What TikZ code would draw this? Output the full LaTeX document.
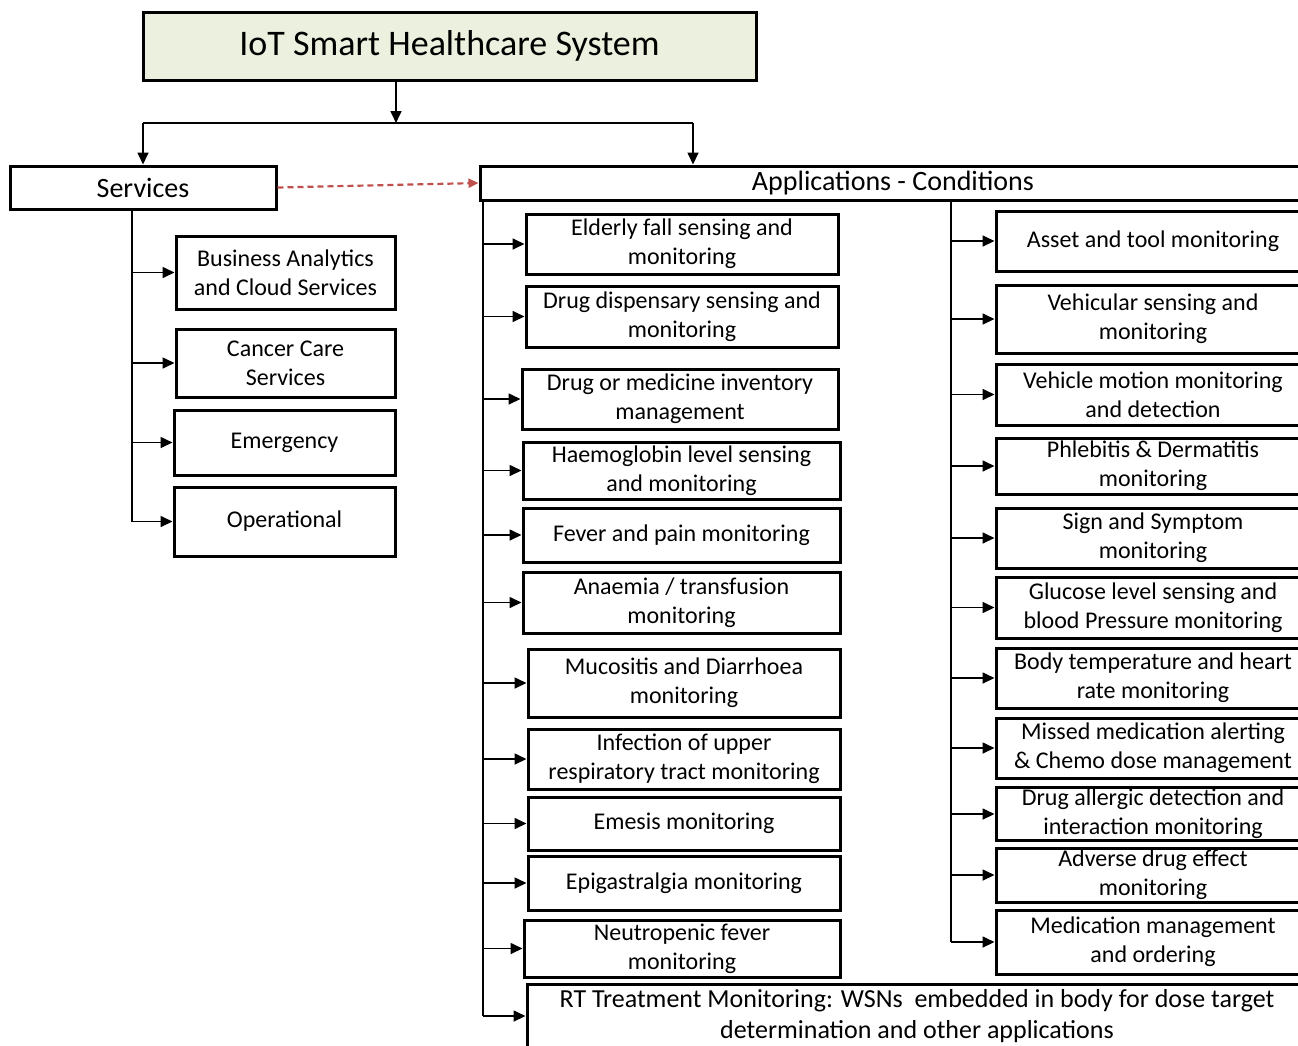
\documentclass[tikz,border=0pt]{standalone}
\usepackage{fontspec}
\setmainfont{Carlito}
\usetikzlibrary{arrows.meta}
\definecolor{titlegreen}{RGB}{235,241,222}
\definecolor{linkred}{RGB}{192,80,77}
\tikzset{
    every picture/.append style={x=1pt, y=-1pt},
    box/.style={rectangle, draw, line width=3pt, align=center, inner sep=2pt,
        font=\fontsize{24}{29}\selectfont},
    headbox/.style={box, font=\fontsize{28}{32}\selectfont},
    conn/.style={line width=1.7pt},
    arr/.style={line width=1.7pt, -{Triangle[length=12pt, width=11pt]}},
    linkarr/.style={line width=2.2pt, draw=linkred, dash pattern=on 6pt off 4pt,
        -{Triangle[length=10pt, width=9pt, fill=linkred]}}
}

\begin{document}
\begin{tikzpicture}
  \useasboundingbox (0,0) rectangle (1298,1045);
  \clip (0,0) rectangle (1298,1045);

  \node (top) [box, fill=titlegreen, minimum width=613pt, minimum height=68pt,
      font=\fontsize{36}{40}\selectfont] at (449.5,46) {IoT Smart Healthcare System};
  \node (srv) [headbox, minimum width=266pt, minimum height=43pt] at (143,187.5) {Services};
  \node (app) [headbox, minimum width=826pt, minimum height=34pt, inner sep=0pt] at (893,183) {Applications - Conditions};

  % services
  \node (ba) [box, minimum width=219pt, minimum height=73pt] at (285.5,272.5) {Business Analytics\\and Cloud Services};
  \node (cc) [box, minimum width=219pt, minimum height=68pt] at (285.5,363) {Cancer Care\\Services};
  \node (eme) [box, minimum width=221pt, minimum height=65pt] at (284.5,442.5) {Emergency};
  \node (op) [box, minimum width=221pt, minimum height=69pt] at (284.5,521.5) {Operational};

  % applications, left column
  \node (el) [box, minimum width=312pt, minimum height=60pt] at (682,244) {Elderly fall sensing and\\monitoring};
  \node (dd) [box, minimum width=312pt, minimum height=61pt] at (682,316.5) {Drug dispensary sensing and\\monitoring};
  \node (dm) [box, minimum width=316pt, minimum height=60pt] at (680,399) {Drug or medicine inventory\\management};
  \node (hb) [box, minimum width=317pt, minimum height=57pt] at (681.5,470.5) {Haemoglobin level sensing\\and monitoring};
  \node (fe) [box, minimum width=317pt, minimum height=54pt] at (681.5,535) {Fever and pain monitoring};
  \node (an) [box, minimum width=317pt, minimum height=61pt] at (681.5,602.5) {Anaemia / transfusion\\monitoring};
  \node (mu) [box, minimum width=312pt, minimum height=68pt] at (684,683) {Mucositis and Diarrhoea\\monitoring};
  \node (inf) [box, minimum width=312pt, minimum height=60pt] at (684,759) {Infection of upper\\respiratory tract monitoring};
  \node (em) [box, minimum width=312pt, minimum height=53pt] at (684,823.5) {Emesis monitoring};
  \node (ep) [box, minimum width=312pt, minimum height=54pt] at (684,883) {Epigastralgia monitoring};
  \node (ne) [box, minimum width=316pt, minimum height=57pt] at (682,948.5) {Neutropenic fever\\monitoring};
  \node (rt) [box, minimum width=780pt, minimum height=64pt, font=\fontsize{26}{31}\selectfont]
      at (917,1016) {RT Treatment Monitoring: WSNs~ embedded in body for dose target\\determination and other applications};

  % applications, right column
  \node (as) [box, minimum width=314pt, minimum height=60pt] at (1153,241) {Asset and tool monitoring};
  \node (vs) [box, minimum width=314pt, minimum height=68pt] at (1153,319) {Vehicular sensing and\\monitoring};
  \node (vm) [box, minimum width=314pt, minimum height=61pt] at (1153,394.5) {Vehicle motion monitoring\\and detection};
  \node (ph) [box, minimum width=314pt, minimum height=56pt] at (1153,466) {Phlebitis \& Dermatitis\\monitoring};
  \node (si) [box, minimum width=314pt, minimum height=60pt] at (1153,538) {Sign and Symptom\\monitoring};
  \node (gl) [box, minimum width=314pt, minimum height=61pt] at (1153,607.5) {Glucose level sensing and\\blood Pressure monitoring};
  \node (bt) [box, minimum width=314pt, minimum height=60pt] at (1153,678) {Body temperature and heart\\rate monitoring};
  \node (mm) [box, minimum width=314pt, minimum height=60pt] at (1153,748) {Missed medication alerting\\\& Chemo dose management};
  \node (da) [box, minimum width=314pt, minimum height=52pt] at (1153,814) {Drug allergic detection and\\interaction monitoring};
  \node (ad) [box, minimum width=314pt, minimum height=54pt] at (1153,875) {Adverse drug effect\\monitoring};
  \node (mo) [box, minimum width=314pt, minimum height=64pt] at (1153,942) {Medication management\\and ordering};

  \coordinate (split) at (396,123);
  \coordinate (strunk) at (132,0);
  \coordinate (ltrunk) at (483,0);
  \coordinate (rtrunk) at (951,0);

  \draw [arr] (top.south -| split) -- (split);
  \draw [conn] (split -| srv) -- (split -| 693,0);
  \draw [arr] (split -| srv) -- (srv);
  \draw [arr] (split -| 693,0) -- (app.north -| 693,0);
  \draw [linkarr] (srv.east) -- (app.west);

  \draw [conn] (srv.south -| strunk) -- (strunk |- op);
  \draw [arr] (strunk |- ba) -- (ba);
  \draw [arr] (strunk |- cc) -- (cc);
  \draw [arr] (strunk |- eme) -- (eme);
  \draw [arr] (strunk |- op) -- (op);

  \draw [conn] (app.south -| ltrunk) -- (ltrunk |- rt);
  \draw [arr] (ltrunk |- el) -- (el);
  \draw [arr] (ltrunk |- dd) -- (dd);
  \draw [arr] (ltrunk |- dm) -- (dm);
  \draw [arr] (ltrunk |- hb) -- (hb);
  \draw [arr] (ltrunk |- fe) -- (fe);
  \draw [arr] (ltrunk |- an) -- (an);
  \draw [arr] (ltrunk |- mu) -- (mu);
  \draw [arr] (ltrunk |- inf) -- (inf);
  \draw [arr] (ltrunk |- em) -- (em);
  \draw [arr] (ltrunk |- ep) -- (ep);
  \draw [arr] (ltrunk |- ne) -- (ne);
  \draw [arr] (ltrunk |- rt) -- (rt);

  \draw [conn] (app.south -| rtrunk) -- (rtrunk |- mo);
  \draw [arr] (rtrunk |- as) -- (as);
  \draw [arr] (rtrunk |- vs) -- (vs);
  \draw [arr] (rtrunk |- vm) -- (vm);
  \draw [arr] (rtrunk |- ph) -- (ph);
  \draw [arr] (rtrunk |- si) -- (si);
  \draw [arr] (rtrunk |- gl) -- (gl);
  \draw [arr] (rtrunk |- bt) -- (bt);
  \draw [arr] (rtrunk |- mm) -- (mm);
  \draw [arr] (rtrunk |- da) -- (da);
  \draw [arr] (rtrunk |- ad) -- (ad);
  \draw [arr] (rtrunk |- mo) -- (mo);
\end{tikzpicture}
\end{document}
